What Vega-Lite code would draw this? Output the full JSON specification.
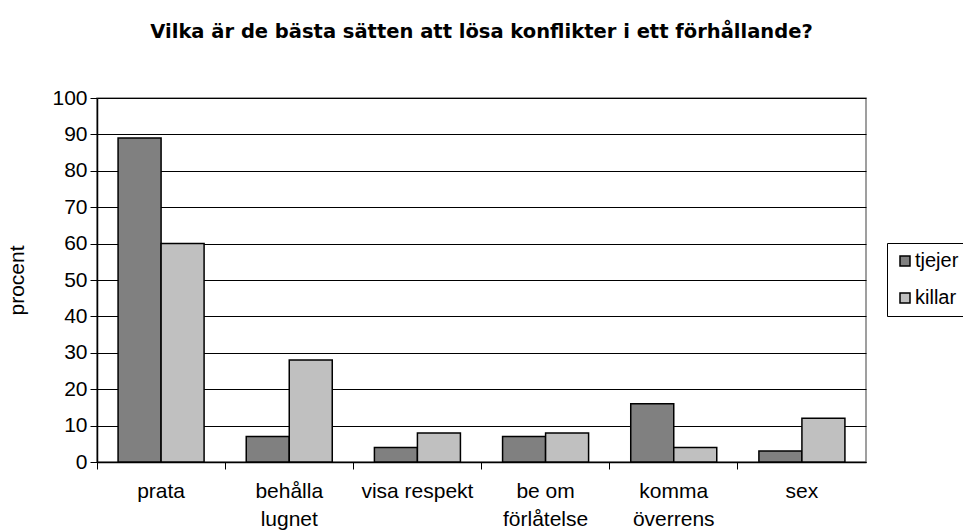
{
  "$schema": "https://vega.github.io/schema/vega-lite/v6.json",
  "width": 769,
  "height": 364,
  "autosize": {"type": "none"},
  "padding": {"left": 97, "top": 98, "right": 97, "bottom": 70},
  "background": "white",
  "title": {
    "text": "Vilka är de bästa sätten att lösa konflikter i ett förhållande?",
    "font": "DejaVu Sans",
    "fontSize": 19.5,
    "fontWeight": "bold",
    "color": "black",
    "anchor": "middle",
    "offset": 45
  },
  "config": {
    "view": {"stroke": "#808080", "strokeWidth": 1.5},
    "font": "Liberation Sans"
  },
  "data": {
    "values": [
      {"kategori": "prata", "kon": "tjejer", "procent": 89},
      {"kategori": "prata", "kon": "killar", "procent": 60},
      {"kategori": "behålla lugnet", "kon": "tjejer", "procent": 7},
      {"kategori": "behålla lugnet", "kon": "killar", "procent": 28},
      {"kategori": "visa respekt", "kon": "tjejer", "procent": 4},
      {"kategori": "visa respekt", "kon": "killar", "procent": 8},
      {"kategori": "be om förlåtelse", "kon": "tjejer", "procent": 7},
      {"kategori": "be om förlåtelse", "kon": "killar", "procent": 8},
      {"kategori": "komma överrens", "kon": "tjejer", "procent": 16},
      {"kategori": "komma överrens", "kon": "killar", "procent": 4},
      {"kategori": "sex", "kon": "tjejer", "procent": 3},
      {"kategori": "sex", "kon": "killar", "procent": 12}
    ]
  },
  "mark": {"type": "bar", "stroke": "black", "strokeWidth": 1.5},
  "encoding": {
    "x": {
      "field": "kategori",
      "type": "nominal",
      "sort": null,
      "scale": {"paddingInner": 0, "paddingOuter": 0},
      "axis": {
        "title": null,
        "labelAngle": 0,
        "labelFont": "Liberation Sans",
        "labelFontSize": 21,
        "labelColor": "black",
        "labelPadding": 11,
        "labelLineHeight": 28,
        "labelExpr": "indexof(['behålla lugnet','be om förlåtelse','komma överrens'], datum.label) >= 0 ? [substring(datum.label, 0, lastindexof(datum.label, ' ')), substring(datum.label, lastindexof(datum.label, ' ') + 1)] : datum.label",
        "bandPosition": 0,
        "tickSize": 7,
        "tickColor": "black",
        "domainColor": "black",
        "domainWidth": 1.5,
        "tickWidth": 1,
        "grid": false
      }
    },
    "xOffset": {
      "field": "kon",
      "type": "nominal",
      "sort": ["tjejer", "killar"],
      "scale": {"paddingInner": 0, "paddingOuter": 0.49}
    },
    "y": {
      "field": "procent",
      "type": "quantitative",
      "scale": {"domain": [0, 100], "nice": false},
      "axis": {
        "title": "procent",
        "titleFont": "Liberation Sans",
        "titleFontSize": 21,
        "titleFontWeight": "normal",
        "titleColor": "black",
        "titlePadding": 24,
        "values": [0, 10, 20, 30, 40, 50, 60, 70, 80, 90, 100],
        "labelFont": "Liberation Sans",
        "labelFontSize": 21,
        "labelColor": "black",
        "labelPadding": 3,
        "tickSize": 7,
        "tickColor": "black",
        "domainColor": "black",
        "domainWidth": 1.5,
        "grid": true,
        "gridColor": "black",
        "gridWidth": 1
      }
    },
    "fill": {
      "field": "kon",
      "type": "nominal",
      "sort": ["tjejer", "killar"],
      "scale": {"domain": ["tjejer", "killar"], "range": ["#808080", "#c0c0c0"]},
      "legend": {
        "title": null,
        "orient": "none",
        "legendX": 790,
        "legendY": 145,
        "strokeColor": "black",
        "padding": 8,
        "fillColor": "white",
        "symbolType": "square",
        "symbolSize": 100,
        "symbolStrokeColor": "black",
        "symbolStrokeWidth": 1.5,
        "labelFont": "Liberation Sans",
        "labelFontSize": 20,
        "labelColor": "black",
        "rowPadding": 17,
        "labelOffset": 0
      }
    }
  }
}
